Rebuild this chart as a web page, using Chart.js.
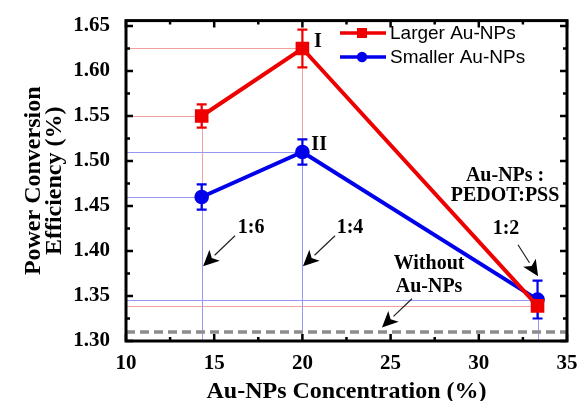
<!DOCTYPE html>
<html>
<head>
<meta charset="utf-8">
<script src="https://cdn.jsdelivr.net/npm/chart.js@4.4.1/dist/chart.umd.min.js"></script>
<style>
  html, body { margin: 0; padding: 0; background: #fff; }
  #wrap { width: 580px; height: 401px; }
</style>
</head>
<body>
<div id="wrap"><canvas id="pce"></canvas></div>
<script>
// data
const concentration = [14.29, 20, 33.33];
const largerPCE = [1.55, 1.625, 1.339];
const largerErr = [0.013, 0.021, 0];
const smallerPCE = [1.46, 1.51, 1.346];
const smallerErr = [0.014, 0.014, 0.021];
const baselinePCE = 1.31;
const xTicks = [10, 15, 20, 25, 30, 35];
const yTicks = [1.30, 1.35, 1.40, 1.45, 1.50, 1.55, 1.60, 1.65];

const RED = 'rgb(238,0,0)';
const BLUE = 'rgb(0,0,235)';
const SERIF = '"Liberation Serif", "Times New Roman", serif';

// text labels and arrows, in data coordinates
const notes = [
  { text: 'I', x: 20.88, y: 1.632 },
  { text: 'II', x: 20.95, y: 1.518 },
  { text: 'Au-NPs :', x: 31.49, y: 1.484 },
  { text: 'PEDOT:PSS', x: 31.49, y: 1.461 },
  { text: '1:6', x: 17.09, y: 1.426 },
  { text: '1:4', x: 22.70, y: 1.426 },
  { text: '1:2', x: 31.54, y: 1.425 },
  { text: 'Without', x: 27.18, y: 1.386 },
  { text: 'Au-NPs', x: 27.18, y: 1.360 }
];
const arrows = [
  { from: [16.18, 1.417], to: [14.37, 1.383] },
  { from: [21.85, 1.417], to: [20.03, 1.383] },
  { from: [32.22, 1.407], to: [33.36, 1.372] },
  { from: [26.21, 1.347], to: [24.51, 1.315] }
];

function toXY(arr) {
  return concentration.map((c, i) => ({ x: c, y: arr[i] }));
}

const decorations = {
  id: 'decorations',
  beforeDatasetsDraw(chart) {
    const { ctx, chartArea: a, scales: { x, y } } = chart;
    ctx.save();
    ctx.lineWidth = 1;
    // guide lines from each point to the axes (blue drawn last, covers red below it)
    [[largerPCE, 'rgb(244,160,160)'], [smallerPCE, 'rgb(150,150,245)']].forEach(([vals, col]) => {
      ctx.strokeStyle = col;
      vals.forEach((v, i) => {
        const px = Math.round(x.getPixelForValue(concentration[i])) + 0.5;
        const py = Math.round(y.getPixelForValue(v)) + 0.5;
        ctx.beginPath();
        ctx.moveTo(a.left, py); ctx.lineTo(px, py);
        ctx.moveTo(px, py); ctx.lineTo(px, a.bottom);
        ctx.stroke();
      });
    });
    ctx.restore();
  },
  afterDatasetDraw(chart, args) {
    const errs = [largerErr, smallerErr][args.index];
    const vals = [largerPCE, smallerPCE][args.index];
    if (!errs) return;
    const { ctx, scales: { x, y } } = chart;
    ctx.save();
    ctx.strokeStyle = chart.data.datasets[args.index].borderColor;
    ctx.lineWidth = 2.2;
    vals.forEach((v, i) => {
      if (!errs[i]) return;
      const px = x.getPixelForValue(concentration[i]);
      const t = y.getPixelForValue(v + errs[i]);
      const b = y.getPixelForValue(v - errs[i]);
      ctx.beginPath();
      ctx.moveTo(px, t); ctx.lineTo(px, b);
      ctx.moveTo(px - 5, t); ctx.lineTo(px + 5, t);
      ctx.moveTo(px - 5, b); ctx.lineTo(px + 5, b);
      ctx.stroke();
    });
    ctx.restore();
  },
  afterDraw(chart) {
    const { ctx, chartArea: a, scales: { x, y } } = chart;
    ctx.save();
    // frame
    ctx.strokeStyle = '#000';
    ctx.lineWidth = 3;
    ctx.strokeRect(a.left, a.top, a.right - a.left, a.bottom - a.top);
    // inward ticks, major and minor
    ctx.lineWidth = 2.5;
    ctx.beginPath();
    xTicks.forEach((v, i) => {
      const px = x.getPixelForValue(v);
      ctx.moveTo(px, a.bottom); ctx.lineTo(px, a.bottom - 7);
      ctx.moveTo(px, a.top); ctx.lineTo(px, a.top + 7);
      if (i < xTicks.length - 1) {
        const mx = x.getPixelForValue((v + xTicks[i + 1]) / 2);
        ctx.moveTo(mx, a.bottom); ctx.lineTo(mx, a.bottom - 4);
        ctx.moveTo(mx, a.top); ctx.lineTo(mx, a.top + 4);
      }
    });
    yTicks.forEach((v, i) => {
      const py = y.getPixelForValue(v);
      ctx.moveTo(a.left, py); ctx.lineTo(a.left + 7, py);
      ctx.moveTo(a.right, py); ctx.lineTo(a.right - 7, py);
      if (i < yTicks.length - 1) {
        const my = y.getPixelForValue((v + yTicks[i + 1]) / 2);
        ctx.moveTo(a.left, my); ctx.lineTo(a.left + 4, my);
        ctx.moveTo(a.right, my); ctx.lineTo(a.right - 4, my);
      }
    });
    ctx.stroke();

    // annotation text
    ctx.fillStyle = '#000';
    ctx.font = 'bold 20px ' + SERIF;
    ctx.textAlign = 'center';
    ctx.textBaseline = 'middle';
    notes.forEach(n => ctx.fillText(n.text, x.getPixelForValue(n.x), y.getPixelForValue(n.y)));

    // arrows
    arrows.forEach(ar => {
      const x0 = x.getPixelForValue(ar.from[0]), y0 = y.getPixelForValue(ar.from[1]);
      const x1 = x.getPixelForValue(ar.to[0]), y1 = y.getPixelForValue(ar.to[1]);
      const ang = Math.atan2(y1 - y0, x1 - x0);
      const len = 16, half = 7.5;
      const bx = x1 - len * Math.cos(ang), by = y1 - len * Math.sin(ang);
      ctx.strokeStyle = '#222';
      ctx.lineWidth = 1.2;
      ctx.beginPath();
      ctx.moveTo(x0, y0); ctx.lineTo(bx, by);
      ctx.stroke();
      ctx.beginPath();
      ctx.moveTo(x1, y1);
      ctx.lineTo(bx + half * Math.sin(ang), by - half * Math.cos(ang));
      ctx.lineTo(bx + 4 * Math.cos(ang), by + 4 * Math.sin(ang));
      ctx.lineTo(bx - half * Math.sin(ang), by + half * Math.cos(ang));
      ctx.closePath();
      ctx.fill();
    });

    // legend inside the plot
    const legend = [
      { label: 'Larger Au-NPs', color: RED, style: 'rect' },
      { label: 'Smaller Au-NPs', color: BLUE, style: 'circle' }
    ];
    ctx.font = '19px "Liberation Sans", Arial, sans-serif';
    ctx.textAlign = 'left';
    legend.forEach((l, i) => {
      const ly = 33 + i * 24;
      ctx.strokeStyle = l.color;
      ctx.fillStyle = l.color;
      ctx.lineWidth = 3.5;
      ctx.beginPath();
      ctx.moveTo(340, ly); ctx.lineTo(386, ly);
      ctx.stroke();
      if (l.style === 'rect') ctx.fillRect(357, ly - 5, 10, 10);
      else { ctx.beginPath(); ctx.arc(362, ly, 5.2, 0, Math.PI * 2); ctx.fill(); }
      ctx.fillStyle = '#000';
      ctx.fillText(l.label, 390, ly + 1);
    });
    ctx.restore();
  }
};

new Chart(document.getElementById('pce'), {
  type: 'line',
  data: {
    datasets: [
      {
        label: 'Larger Au-NPs',
        data: toXY(largerPCE),
        borderColor: RED, backgroundColor: RED,
        borderWidth: 4, pointStyle: 'rect', pointRadius: 6.8, tension: 0
      },
      {
        label: 'Smaller Au-NPs',
        data: toXY(smallerPCE),
        borderColor: BLUE, backgroundColor: BLUE,
        borderWidth: 4, pointStyle: 'circle', pointRadius: 5.3, tension: 0
      },
      {
        label: 'Without Au-NPs',
        data: [{ x: xTicks[0], y: baselinePCE }, { x: xTicks[xTicks.length - 1], y: baselinePCE }],
        borderColor: '#8c8c8c', borderWidth: 3.5, borderDash: [9, 5], pointRadius: 0
      }
    ]
  },
  options: {
    responsive: true,
    maintainAspectRatio: false,
    animation: false,
    devicePixelRatio: 1,
    layout: { padding: { top: 13, right: 13, left: 0, bottom: 0 } },
    plugins: { legend: { display: false }, tooltip: { enabled: false } },
    scales: {
      x: {
        type: 'linear', min: 10, max: 35,
        afterBuildTicks: s => { s.ticks = xTicks.map(v => ({ value: v })); },
        afterFit: s => { s.height = 60; },
        grid: { display: false }, border: { display: false },
        ticks: { color: '#000', padding: 2, font: { family: SERIF, size: 21, weight: 'bold' } },
        title: { display: true, text: 'Au-NPs Concentration (%)', color: '#000', padding: { top: 0, bottom: -3 },
                 font: { family: SERIF, size: 24, weight: 'bold', lineHeight: 1.0 } }
      },
      y: {
        type: 'linear', min: 1.30, max: 1.656,
        afterBuildTicks: s => { s.ticks = yTicks.map(v => ({ value: v })); },
        afterFit: s => { s.width = 126; },
        grid: { display: false }, border: { display: false },
        ticks: { color: '#000', padding: 8, font: { family: SERIF, size: 21, weight: 'bold' },
                 callback: v => v.toFixed(2) },
        title: { display: true, text: ['Power Conversion', 'Efficiency (%)'], color: '#000', padding: { top: 23, bottom: 0 },
                 font: { family: SERIF, size: 24, weight: 'bold', lineHeight: 0.88 } }
      }
    }
  },
  plugins: [decorations]
});
</script>
</body>
</html>
